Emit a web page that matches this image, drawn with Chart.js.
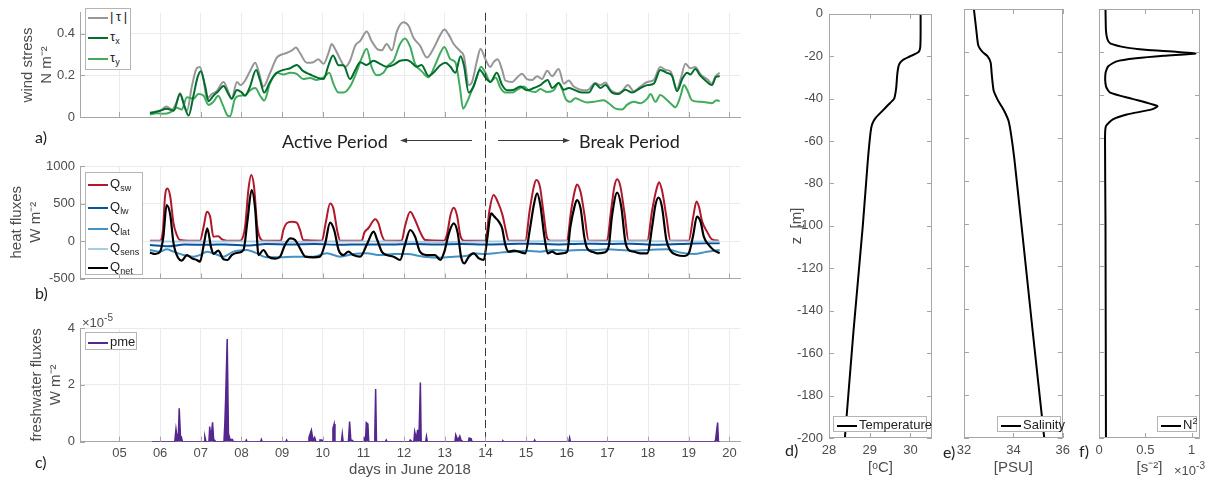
<!DOCTYPE html>
<html lang="en">
<head>
<meta charset="UTF-8">
<title>Surface forcing and stratification</title>
<script src="https://cdn.jsdelivr.net/npm/chart.js"></script>
<style>
  body { margin: 0; background: #fff; }
  #fig { position: relative; width: 1208px; height: 480px; overflow: hidden; font-family: "Liberation Sans", Arial, sans-serif; }
  .pane { position: absolute; }
  .lbl { position: absolute; line-height: 1; white-space: nowrap; transform: translateY(-50%); color: #222; font-family: Lato, "Open Sans", sans-serif; font-size: 16px; }
  .big { font-size: 18px; }
  .exp { font-family: "Liberation Sans", Arial, sans-serif; font-size: 13px; color: #4d4d4d; }
  .exp sup { font-size: 10px; }
  .legend { position: absolute; background: #fff; border: 1px solid #b4b4b4; box-sizing: border-box; }
  .row { position: absolute; left: 2px; height: 16px; line-height: 16px; margin-top: -8px; font-size: 13px; color: #222; white-space: nowrap; }
  .row sub { font-size: 9px; vertical-align: -3px; line-height: 0; }
  .row sup { font-size: 9px; vertical-align: 5px; line-height: 0; }
  .sw { display: inline-block; width: 20px; height: 2px; margin-right: 2px; vertical-align: middle; }
</style>
</head>
<body>
<div id="fig">
  <div class="pane" style="left:0;top:0"><canvas id="cA" width="760" height="150"></canvas></div>
  <div class="pane" style="left:0;top:150px"><canvas id="cB" width="760" height="150"></canvas></div>
  <div class="pane" style="left:0;top:300px"><canvas id="cC" width="760" height="180"></canvas></div>
  <div class="pane" style="left:760px;top:0"><canvas id="cD" width="180" height="480"></canvas></div>
  <div class="pane" style="left:940px;top:0"><canvas id="cE" width="135" height="480"></canvas></div>
  <div class="pane" style="left:1075px;top:0"><canvas id="cF" width="133" height="480"></canvas></div>

  <div class="legend" style="left:85px;top:8px;width:46px;height:62px">
    <div class="row" style="top:8px"><span class="sw" style="background:#969696"></span>|&thinsp;τ&thinsp;|</div>
    <div class="row" style="top:28px"><span class="sw" style="background:#006d2c"></span>τ<sub>x</sub></div>
    <div class="row" style="top:49px"><span class="sw" style="background:#41ab5d"></span>τ<sub>y</sub></div>
  </div>
  <div class="legend" style="left:85px;top:172px;width:58px;height:103px">
    <div class="row" style="top:11px"><span class="sw" style="background:#b2182b"></span>Q<sub>sw</sub></div>
    <div class="row" style="top:34px"><span class="sw" style="background:#08519c"></span>Q<sub>lw</sub></div>
    <div class="row" style="top:55px"><span class="sw" style="background:#4292c6"></span>Q<sub>lat</sub></div>
    <div class="row" style="top:75px"><span class="sw" style="background:#a6cee3"></span>Q<sub>sens</sub></div>
    <div class="row" style="top:94px"><span class="sw" style="background:#000"></span>Q<sub>net</sub></div>
  </div>
  <div class="legend" style="left:85px;top:332px;width:52px;height:18px">
    <div class="row" style="top:9px"><span class="sw" style="background:#54278f"></span>pme</div>
  </div>
  <div class="legend" style="left:833px;top:416px;width:94px;height:16px">
    <div class="row" style="top:8px;left:3px"><span class="sw" style="background:#000"></span>Temperature</div>
  </div>
  <div class="legend" style="left:997px;top:416px;width:64px;height:16px">
    <div class="row" style="top:8px;left:3px"><span class="sw" style="background:#000"></span>Salinity</div>
  </div>
  <div class="legend" style="left:1157px;top:416px;width:40px;height:16px">
    <div class="row" style="top:8px;left:3px"><span class="sw" style="background:#000"></span>N<sup>2</sup></div>
  </div>

  <div class="lbl" style="left:35px;top:137px">a)</div>
  <div class="lbl" style="left:35px;top:293px">b)</div>
  <div class="lbl" style="left:35px;top:462px">c)</div>
  <div class="lbl" style="left:785px;top:450px">d)</div>
  <div class="lbl" style="left:943px;top:452px">e)</div>
  <div class="lbl" style="left:1079px;top:451px">f)</div>
  <div class="lbl big" style="left:282px;top:141px">Active Period</div>
  <div class="lbl big" style="left:579px;top:141px">Break Period</div>
  <div class="lbl exp" style="left:82px;top:321px">×10<sup>-5</sup></div>
  <div class="lbl exp" style="left:1174px;top:469px">×10<sup>-3</sup></div>
</div>

<script>
// ---- time axis (days in June 2018)
const dayTicks = [5, 6, 7, 8, 9, 10, 11, 12, 13, 14, 15, 16, 17, 18, 19, 20];
const dayLabels = ['05', '06', '07', '08', '09', '10', '11', '12', '13', '14', '15', '16', '17', '18', '19', '20'];
const breakDay = 14;

// ---- a) wind stress, N m-2
const tauMagDays = [5.75,5.88,6.0,6.16,6.29,6.41,6.49,6.57,6.66,6.78,6.90,6.98,7.07,7.15,7.27,7.39,7.56,7.66,7.76,7.89,
  7.98,8.09,8.21,8.34,8.42,8.54,8.70,8.87,8.99,9.11,9.24,9.34,9.44,9.61,9.77,9.89,10.02,10.14,10.22,10.30,
  10.43,10.55,10.67,10.80,10.92,11.08,11.20,11.33,11.45,11.57,11.70,11.82,11.98,12.11,12.23,12.39,12.56,12.72,12.89,12.99,
  13.10,13.22,13.39,13.47,13.59,13.67,13.80,13.88,14.0,14.12,14.20,14.30,14.41,14.49,14.66,14.78,14.90,15.02,15.15,15.27,
  15.39,15.52,15.64,15.80,15.93,16.05,16.17,16.34,16.50,16.70,16.83,16.95,17.07,17.24,17.36,17.50,17.65,17.81,17.98,18.14,
  18.30,18.43,18.55,18.71,18.80,18.92,19.04,19.16,19.29,19.45,19.57,19.66,19.76];
const tauMag = [0.022,0.025,0.03,0.05,0.036,0.073,0.114,0.07,0.03,0.146,0.234,0.24,0.175,0.088,0.11,0.124,0.168,0.13,0.088,0.168,
  0.153,0.175,0.22,0.26,0.22,0.146,0.21,0.285,0.30,0.307,0.32,0.333,0.307,0.26,0.263,0.277,0.255,0.307,0.35,0.328,
  0.277,0.24,0.27,0.343,0.365,0.41,0.365,0.328,0.32,0.35,0.32,0.41,0.455,0.438,0.38,0.343,0.285,0.328,0.394,0.42,
  0.394,0.35,0.314,0.292,0.153,0.168,0.277,0.328,0.277,0.24,0.263,0.277,0.226,0.175,0.168,0.19,0.207,0.182,0.178,0.196,
  0.182,0.222,0.196,0.23,0.16,0.175,0.146,0.131,0.128,0.163,0.153,0.166,0.131,0.114,0.124,0.153,0.124,0.146,0.168,0.178,
  0.24,0.226,0.219,0.134,0.182,0.255,0.234,0.24,0.204,0.182,0.16,0.196,0.212];

const tauXDays = [5.75,6.0,6.16,6.33,6.49,6.61,6.70,6.82,6.92,7.0,7.11,7.19,7.31,7.43,7.56,7.68,7.76,7.89,8.01,8.09,
  8.21,8.36,8.46,8.56,8.70,8.87,9.03,9.20,9.36,9.52,9.69,9.85,10.02,10.14,10.25,10.39,10.51,10.67,10.80,10.92,
  11.08,11.25,11.41,11.57,11.74,11.90,12.07,12.19,12.31,12.43,12.60,12.72,12.89,13.02,13.14,13.26,13.39,13.47,13.59,13.71,
  13.86,14.0,14.12,14.28,14.41,14.53,14.70,14.86,15.02,15.19,15.35,15.53,15.64,15.80,15.93,16.05,16.21,16.38,16.54,16.70,
  16.83,16.95,17.11,17.28,17.44,17.61,17.81,17.98,18.14,18.30,18.46,18.59,18.71,18.84,18.96,19.04,19.16,19.29,19.41,19.57,
  19.66,19.76];
const tauX = [0.018,0.03,0.04,0.03,0.11,0.044,0.007,0.102,0.19,0.22,0.146,0.076,0.102,0.124,0.149,0.11,0.088,0.13,0.117,0.102,
  0.146,0.226,0.175,0.117,0.168,0.212,0.226,0.234,0.25,0.22,0.204,0.19,0.182,0.248,0.295,0.248,0.248,0.182,0.226,0.263,
  0.25,0.27,0.255,0.241,0.25,0.27,0.274,0.26,0.241,0.25,0.197,0.212,0.248,0.26,0.241,0.212,0.292,0.248,0.117,0.146,
  0.226,0.19,0.168,0.212,0.153,0.128,0.131,0.146,0.128,0.139,0.153,0.178,0.139,0.163,0.131,0.139,0.128,0.117,0.117,0.16,
  0.139,0.153,0.117,0.11,0.131,0.117,0.139,0.153,0.16,0.226,0.212,0.197,0.124,0.182,0.212,0.204,0.23,0.197,0.175,0.153,
  0.19,0.197];

const tauYDays = [5.75,5.92,6.08,6.25,6.41,6.53,6.66,6.82,6.94,7.07,7.19,7.31,7.43,7.54,7.66,7.72,7.84,7.97,8.09,8.21,
  8.34,8.46,8.56,8.70,8.87,9.03,9.20,9.36,9.52,9.69,9.85,10.02,10.16,10.26,10.39,10.51,10.67,10.84,10.96,11.08,
  11.20,11.33,11.49,11.61,11.74,11.90,12.02,12.15,12.27,12.43,12.60,12.76,12.89,12.99,13.14,13.26,13.37,13.45,13.55,13.67,
  13.80,13.89,14.0,14.12,14.25,14.37,14.49,14.66,14.78,14.94,15.06,15.23,15.35,15.52,15.68,15.80,15.89,15.97,16.09,16.21,
  16.34,16.50,16.66,16.91,17.03,17.20,17.36,17.48,17.65,17.81,17.98,18.06,18.18,18.30,18.43,18.55,18.67,18.80,18.88,18.96,
  19.08,19.29,19.45,19.57,19.68,19.76];
const tauY = [0.012,0.018,0.015,0.022,0.044,0.036,0.095,0.088,0.11,0.102,0.058,0.073,0.102,0.058,0.007,0.003,0.088,0.102,0.105,0.128,
  0.139,0.102,0.079,0.16,0.212,0.204,0.212,0.207,0.182,0.187,0.178,0.19,0.212,0.16,0.117,0.117,0.146,0.22,0.285,0.328,
  0.241,0.2,0.212,0.248,0.27,0.35,0.377,0.336,0.255,0.22,0.19,0.248,0.307,0.336,0.277,0.263,0.146,0.04,0.073,0.131,
  0.197,0.241,0.212,0.168,0.19,0.139,0.117,0.117,0.131,0.146,0.128,0.12,0.134,0.12,0.128,0.163,0.131,0.088,0.073,0.09,
  0.08,0.07,0.073,0.08,0.066,0.04,0.036,0.058,0.073,0.066,0.088,0.11,0.073,0.105,0.088,0.066,0.047,0.102,0.153,0.131,
  0.08,0.073,0.07,0.066,0.08,0.077];

// ---- b) heat fluxes, W m-2
const qswDays = [5.75,6.0,6.07,6.12,6.18,6.25,6.33,6.41,6.49,6.70,6.98,7.07,7.15,7.23,7.31,7.43,7.52,7.64,7.97,8.09,
  8.17,8.24,8.31,8.39,8.48,8.54,8.97,9.03,9.11,9.24,9.36,9.44,9.52,9.98,10.07,10.18,10.26,10.36,10.43,10.96,
  11.02,11.12,11.29,11.37,11.45,11.53,11.94,12.02,12.15,12.27,12.39,12.52,12.98,13.06,13.14,13.22,13.30,13.38,13.47,14.0,
  14.10,14.20,14.30,14.42,14.50,14.57,14.98,15.09,15.19,15.25,15.34,15.42,15.52,15.60,16.0,16.11,16.19,16.25,16.34,16.43,
  16.54,16.99,17.09,17.17,17.24,17.32,17.42,17.52,17.98,18.10,18.21,18.27,18.34,18.45,18.55,19.0,19.11,19.19,19.25,19.33,
  19.45,19.57,19.74];
const qsw = [5,5,150,590,700,590,235,80,13,5,5,190,390,325,58,65,22,5,5,190,
  680,880,725,190,20,5,5,147,235,258,245,147,13,5,235,500,435,125,5,5,
  110,170,290,235,80,5,5,190,390,280,125,13,5,100,345,445,345,80,5,5,
  413,613,525,345,147,5,5,413,725,813,725,413,35,5,5,413,653,755,653,370,
  5,5,413,725,822,725,370,5,5,413,700,785,680,325,5,5,325,525,458,258,
  125,22,5];

const qlwDays = [5.75,6.2,6.6,7.2,7.6,8.2,8.6,9.2,9.8,10.4,11.0,11.6,12.2,12.8,13.4,14.0,14.6,15.2,15.8,16.4,17.0,17.6,18.2,18.8,19.4,19.76];
const qlw = [-53,-70,-48,-50,-45,-60,-40,-45,-40,-50,-45,-48,-40,-45,-40,-45,-40,-35,-45,-35,-40,-35,-50,-40,-30,-30];

const qlatDays = [5.75,6.0,6.16,6.33,6.57,6.82,6.98,7.15,7.31,7.56,7.80,8.13,8.34,8.62,8.95,9.28,9.77,10.10,10.43,10.75,
  11.08,11.41,11.74,12.07,12.48,12.89,13.22,13.55,13.71,14.0,14.36,14.70,15.02,15.35,15.68,16.0,16.34,16.66,17.0,17.32,
  17.65,17.98,18.47,18.80,19.12,19.45,19.76];
const qlat = [-120,-142,-111,-142,-187,-209,-187,-142,-164,-209,-142,-120,-155,-218,-218,-209,-209,-164,-209,-173,
  -164,-187,-173,-173,-209,-222,-209,-196,-164,-173,-155,-142,-129,-142,-120,-129,-120,-120,-111,-120,
  -129,-120,-111,-155,-173,-142,-120];

const qsensDays = [5.75,7,8,9,10,11,12,13,14,15,16,17,18,19,19.76];
const qsens = [-5,-8,-5,-10,-8,-5,-10,-12,-8,-5,-3,-5,-3,-5,-5];

const qnetDays = [5.75,5.88,6.0,6.08,6.16,6.25,6.33,6.45,6.53,6.66,6.78,6.90,6.98,7.08,7.16,7.25,7.31,7.43,7.56,7.66,
  7.76,7.93,8.05,8.15,8.25,8.34,8.42,8.54,8.66,8.83,8.95,9.07,9.20,9.32,9.44,9.57,9.77,9.93,10.06,10.18,
  10.28,10.39,10.51,10.63,10.75,10.92,11.08,11.25,11.34,11.45,11.57,11.74,11.90,12.02,12.15,12.27,12.39,12.56,12.76,12.89,
  12.99,13.10,13.22,13.32,13.40,13.48,13.59,13.71,13.84,13.96,14.04,14.14,14.22,14.33,14.41,14.49,14.57,14.70,14.82,14.98,
  15.09,15.19,15.27,15.35,15.45,15.53,15.64,15.76,15.89,16.01,16.09,16.19,16.25,16.34,16.43,16.50,16.62,16.75,16.91,17.03,
  17.11,17.24,17.34,17.44,17.52,17.65,17.81,17.98,18.10,18.18,18.26,18.34,18.45,18.55,18.71,18.88,19.0,19.11,19.20,19.29,
  19.37,19.49,19.61,19.76];
const qnet = [-155,-173,-142,58,480,347,-31,-231,-262,-187,-231,-253,-276,-31,169,-76,-173,-129,-244,-253,
  -187,-155,-120,280,680,413,-187,-120,-209,-236,-209,-53,35,13,-98,-209,-218,-209,-31,245,
  147,-120,-187,-142,-187,-209,-53,125,13,-142,-187,-209,-253,-53,147,58,-142,-187,-187,-253,
  -142,102,235,102,-209,-298,-209,-164,-231,-253,13,369,325,258,169,-53,-142,-129,-142,-164,
  147,480,635,480,58,-164,-142,-173,-164,-142,191,458,547,435,58,-98,-142,-164,-155,-76,
  325,644,458,-9,-120,-142,-164,-164,191,480,580,458,13,-129,-187,-200,-164,80,325,258,
  58,-53,-120,-164];

// ---- c) freshwater flux (pme), units of 1e-5
const pmeDays = [5.80,6.36,6.39,6.42,6.45,6.47,6.50,6.52,6.55,
  7.08,7.10,7.13,7.20,7.22,7.25,7.29,7.32,7.34,7.37,
  7.57,7.59,7.61,7.65,7.68,7.72,7.78,7.80,
  8.10,8.12,8.14,8.47,8.49,8.51,9.09,9.11,9.13,
  9.64,9.66,9.72,9.76,9.80,9.83,9.91,9.93,9.98,10.00,
  10.23,10.25,10.28,10.30,10.46,10.48,10.50,
  10.63,10.66,10.69,10.72,10.74,
  11.00,11.02,11.05,11.07,11.11,11.13,11.26,11.28,11.30,11.32,
  11.54,11.56,11.58,
  12.13,12.15,12.20,12.24,12.26,12.30,12.33,12.37,12.40,12.42,12.53,12.55,12.57,
  13.25,13.27,13.32,13.37,13.40,13.42,13.58,13.60,13.65,13.67,
  14.41,14.43,14.45,15.19,15.21,15.23,16.05,16.07,16.09,
  19.64,19.66,19.71,19.73,19.76];
const pme = [0,0,0.44,0.1,0.3,1.18,0.2,0.18,0,
  0,0.18,0,0,0.53,0.1,0.68,0,0.05,0,
  0,0.59,1.45,3.61,0.29,0.08,0.08,0,
  0,0.06,0,0,0.08,0,0,0.06,0,
  0,0.15,0.41,0.05,0.15,0,0,0.06,0.06,0,
  0,0.47,0.62,0,0,0.27,0,
  0,0.71,0.05,0.05,0,
  0,0.12,0,0.67,0.62,0,0,0.27,1.85,0,
  0,0.06,0,
  0,0.06,0,0,0.35,0.1,0.39,0.41,2.08,0,0,0.18,0,
  0,0.24,0.05,0.2,0.06,0,0,0.13,0.1,0,
  0,0.03,0,0,0.06,0,0,0.14,0,
  0,0.08,0.67,0,0];

// ---- d-f) profiles
const depthTicks = [0, -20, -40, -60, -80, -100, -120, -140, -160, -180, -200];
const tempTicks = [28, 29, 30];
const salTicks = [32, 34, 36];
const n2Ticks = [0, 0.5, 1];

const tempDepth = [0,-10,-16,-18,-20,-22,-24,-28,-35,-40,-43,-46,-49,-52,-56,-70,-100,-150,-200];
const temp = [30.25,30.25,30.24,30.2,30.0,29.8,29.72,29.68,29.65,29.6,29.45,29.3,29.15,29.06,29.02,28.95,28.83,28.6,28.39];

const salDepth = [0,-10,-17,-20,-22,-25,-30,-38,-42,-45,-48,-52,-58,-70,-100,-150,-200];
const sal = [32.4,32.5,32.58,32.75,32.95,33.08,33.12,33.2,33.35,33.5,33.65,33.8,33.9,34.04,34.32,34.78,35.25];

// N2 in units of 1e-3 s-2
const n2Depth = [0,-10,-14,-16,-18,-19,-20,-20.8,-21.8,-23,-24.4,-26.7,-30,-36,-39,-42,-45.3,-46.8,-49.2,-51.5,-54.6,-60,-100,-200];
const n2 = [0.07,0.075,0.09,0.12,0.3,0.5,0.85,1.04,0.7,0.4,0.19,0.1,0.07,0.075,0.12,0.37,0.63,0.57,0.3,0.15,0.075,0.065,0.07,0.075];

const FONT = "'Liberation Sans', Arial, sans-serif";
const TICK_COLOR = '#4d4d4d';
const AXIS_COLOR = '#a6a6a6';
Chart.defaults.font.family = FONT;

const pts = (xs, ys) => xs.map((x, i) => ({ x: x, y: ys[i] }));

// inward tick marks (and optional full box) like the original figure
const matlabAxes = {
  id: 'matlabAxes',
  afterDraw(chart, args, o) {
    const { ctx, chartArea: a } = chart;
    const x = chart.scales.x, y = chart.scales.y;
    const len = 5;
    ctx.save();
    ctx.strokeStyle = AXIS_COLOR;
    ctx.lineWidth = 1;
    ctx.beginPath();
    if (o.box) {
      ctx.rect(Math.round(a.left) + 0.5, Math.round(a.top) + 0.5,
        Math.round(a.right) - Math.round(a.left) - 1, Math.round(a.bottom) - Math.round(a.top) - 1);
    }
    (o.xTicks || []).forEach(v => {
      const px = Math.round(x.getPixelForValue(v)) + 0.5;
      ctx.moveTo(px, a.bottom); ctx.lineTo(px, a.bottom - len);
      if (o.box) { ctx.moveTo(px, a.top); ctx.lineTo(px, a.top + len); }
    });
    (o.yTicks || []).forEach(v => {
      const py = Math.round(y.getPixelForValue(v)) + 0.5;
      ctx.moveTo(a.left, py); ctx.lineTo(a.left + len, py);
      if (o.box) { ctx.moveTo(a.right, py); ctx.lineTo(a.right - len, py); }
    });
    ctx.stroke();
    ctx.restore();
  }
};

// dashed separation between active and break periods, plus arrows in panel a
const breakLine = {
  id: 'breakLine',
  afterDatasetsDraw(chart, args, o) {
    const { ctx, chartArea: a } = chart;
    const xs = chart.scales.x;
    const px = Math.round(xs.getPixelForValue(breakDay)) + 0.5;
    const y0 = o.mode === 'top' ? a.top : 0;
    const y1 = o.mode === 'bottom' ? a.bottom + 5 : chart.height;
    ctx.save();
    ctx.strokeStyle = '#3a3a3a';
    ctx.lineWidth = 1;
    ctx.setLineDash([8, 4]);
    ctx.beginPath(); ctx.moveTo(px, y0); ctx.lineTo(px, y1); ctx.stroke();
    ctx.setLineDash([]);
    if (o.arrows) {
      const ay = Math.round(a.bottom + 23) + 0.5;
      ctx.fillStyle = '#3a3a3a';
      o.arrows.forEach(([from, to]) => {
        const x0 = xs.getPixelForValue(from), x1 = xs.getPixelForValue(to);
        const dir = Math.sign(x1 - x0);
        ctx.beginPath(); ctx.moveTo(x0, ay); ctx.lineTo(x1 - dir * 5, ay); ctx.stroke();
        ctx.beginPath(); ctx.moveTo(x1, ay); ctx.lineTo(x1 - dir * 7, ay - 2.5); ctx.lineTo(x1 - dir * 7, ay + 2.5);
        ctx.closePath(); ctx.fill();
      });
    }
    ctx.restore();
  }
};

function line(data, color, order, width) {
  return { data: data, borderColor: color, backgroundColor: color, borderWidth: width || 2, order: order,
    pointRadius: 0, cubicInterpolationMode: 'monotone', fill: false };
}

function timeChart(id, c) {
  return new Chart(document.getElementById(id), {
    type: 'line',
    data: { datasets: c.datasets },
    options: {
      responsive: false,
      animation: false,
      layout: { padding: { top: c.top, right: 20, left: 0, bottom: 0 } },
      plugins: {
        legend: { display: false },
        tooltip: { enabled: false },
        breakLine: { mode: c.lineMode, arrows: c.arrows },
        matlabAxes: { xTicks: dayTicks, yTicks: c.yTicks }
      },
      scales: {
        x: {
          type: 'linear', min: 4.03, max: 20.26,
          afterBuildTicks: s => { s.ticks = dayTicks.map(v => ({ value: v })); },
          afterFit: s => { s.height = c.xHeight; },
          grid: { color: '#ebebeb', drawTicks: false },
          border: { color: AXIS_COLOR },
          ticks: { display: !!c.xTitle, padding: 4, color: TICK_COLOR, font: { size: 13 }, maxRotation: 0, autoSkip: false,
            callback: v => dayLabels[dayTicks.indexOf(v)] },
          title: { display: !!c.xTitle, text: c.xTitle, color: TICK_COLOR, font: { size: 15 }, padding: { top: 0, bottom: 1 } }
        },
        y: {
          type: 'linear', min: c.yMin, max: c.yMax,
          afterBuildTicks: s => { s.ticks = c.yTicks.map(v => ({ value: v })); },
          afterFit: s => { s.width = 80; },
          grid: { color: '#ebebeb', drawTicks: false },
          border: { color: AXIS_COLOR },
          ticks: { padding: 5, color: TICK_COLOR, font: { size: 13 }, callback: v => String(v) },
          title: { display: true, text: c.yTitle, color: TICK_COLOR, font: { size: 15, lineHeight: 1.3 }, padding: { top: c.titlePad, bottom: 0 } }
        }
      }
    },
    plugins: [breakLine, matlabAxes]
  });
}

timeChart('cA', {
  top: 4, xHeight: 33, yMin: 0, yMax: 0.5, yTicks: [0, 0.2, 0.4],
  yTitle: ['wind stress', 'N m⁻²'], titlePad: 18, lineMode: 'top',
  arrows: [[13.67, 11.90], [14.31, 16.08]],
  datasets: [
    line(pts(tauMagDays, tauMag), '#969696', 3),
    line(pts(tauXDays, tauX), '#006d2c', 1),
    line(pts(tauYDays, tauY), '#41ab5d', 2)
  ]
});

timeChart('cB', {
  top: 16, xHeight: 21.5, yMin: -500, yMax: 1000, yTicks: [-500, 0, 500, 1000],
  yTitle: ['heat fluxes', 'W m⁻²'], titlePad: 7, lineMode: 'full',
  datasets: [
    line(pts(qswDays, qsw), '#b2182b', 5),
    line(pts(qlwDays, qlw), '#08519c', 3),
    line(pts(qlatDays, qlat), '#4292c6', 4),
    line(pts(qsensDays, qsens), '#a6cee3', 2),
    line(pts(qnetDays, qnet), '#000000', 1, 2.2)
  ]
});

const pmeSet = line(pts(pmeDays, pme), '#54278f', 1, 1.5);
pmeSet.cubicInterpolationMode = 'default';
pmeSet.tension = 0;
pmeSet.fill = 'origin';
timeChart('cC', {
  top: 28, xHeight: 38.3, yMin: 0, yMax: 4, yTicks: [0, 2, 4],
  yTitle: ['freshwater fluxes', 'W m⁻²'], titlePad: 27, lineMode: 'bottom',
  xTitle: 'days in June 2018',
  datasets: [pmeSet]
});

function profileChart(id, c) {
  return new Chart(document.getElementById(id), {
    type: 'line',
    data: { datasets: [{ data: c.data, borderColor: '#000', borderWidth: 2, pointRadius: 0, tension: 0.2, fill: false }] },
    options: {
      responsive: false,
      animation: false,
      layout: { padding: { top: 9, right: c.right, left: c.left, bottom: 0 } },
      plugins: {
        legend: { display: false },
        tooltip: { enabled: false },
        matlabAxes: { box: true, xTicks: c.xTicks, yTicks: depthTicks }
      },
      scales: {
        x: {
          type: 'linear', min: c.xMin, max: c.xMax,
          afterBuildTicks: s => { s.ticks = c.xTicks.map(v => ({ value: v })); },
          afterFit: s => { s.height = 42; },
          grid: { display: false, drawTicks: false },
          border: { display: false },
          ticks: { padding: 5, color: TICK_COLOR, font: { size: 13 }, maxRotation: 0, autoSkip: false, callback: v => String(v) },
          title: { display: true, text: c.xTitle, color: TICK_COLOR, font: { size: 15 }, padding: { top: 0, bottom: 3 } }
        },
        y: {
          type: 'linear', min: -200, max: 0, display: c.showY,
          afterBuildTicks: s => { s.ticks = depthTicks.map(v => ({ value: v })); },
          afterFit: s => { s.width = c.showY ? 69 : 0; },
          grid: { display: false, drawTicks: false },
          border: { display: false },
          ticks: { padding: 6, color: TICK_COLOR, font: { size: 13 }, callback: v => String(v) },
          title: { display: c.showY, text: 'z  [m]', color: TICK_COLOR, font: { size: 15, lineHeight: 1.3 }, padding: { top: 27, bottom: 0 } }
        }
      }
    },
    plugins: [matlabAxes]
  });
}

profileChart('cD', { data: pts(temp, tempDepth), xMin: 28, xMax: 30.53, xTicks: tempTicks, xTitle: '[ᵒC]', showY: true, left: 0, right: 8 });
profileChart('cE', { data: pts(sal, salDepth), xMin: 32, xMax: 36, xTicks: salTicks, xTitle: '[PSU]', showY: false, left: 24, right: 9 });
profileChart('cF', { data: pts(n2, n2Depth), xMin: 0, xMax: 1.09, xTicks: n2Ticks, xTitle: '[s⁻²]', showY: false, left: 24, right: 8 });
</script>
</body>
</html>
